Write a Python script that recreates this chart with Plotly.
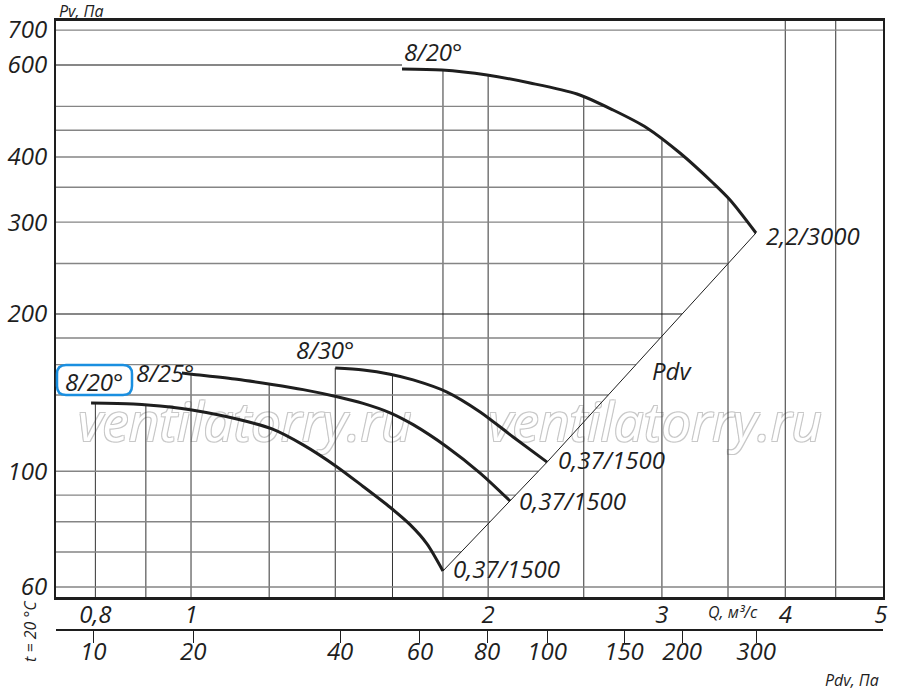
import numpy as np
import plotly.graph_objects as go

FONT = "Open Sans"
INK = "#1e1e1e"

# fan curves, Q in m3/s, Pv in Pa
q_820s = [0.792, 0.874, 0.952, 1.002, 1.113, 1.208, 1.299, 1.406, 1.494, 1.591, 1.667, 1.734, 1.800]
p_820s = [135.1, 134.5, 132.7, 131.0, 125.9, 120.5, 112.3, 101.9, 93.5, 85.3, 79.0, 72.6, 64.4]

q_825 = [0.979, 1.002, 1.113, 1.208, 1.299, 1.406, 1.494, 1.591, 1.679, 1.817, 1.963, 2.105]
p_825 = [154.2, 153.4, 150.0, 146.6, 143.3, 138.9, 134.9, 129.4, 122.8, 111.3, 99.2, 87.7]

q_830 = [1.400, 1.494, 1.591, 1.679, 1.817, 1.963, 2.120, 2.295]
p_830 = [157.7, 156.3, 153.4, 149.6, 141.8, 129.9, 116.3, 104.1]

q_820b = [1.636, 1.796, 1.995, 2.206, 2.461, 2.677, 2.897, 3.129, 3.380, 3.517, 3.736]
p_820b = [589.6, 587.0, 574.2, 554.3, 528.0, 492.0, 454.6, 407.0, 356.6, 330.8, 286.0]

# Pdv line goes through the curve end points
pdv_q = [1.800, 2.105, 2.295, 3.736]
pdv_p = [64.4, 87.7, 104.1, 286.0]

# grid
q_grid = [0.8, 0.9, 1, 1.2, 1.4, 1.6, 1.8, 2, 2.5, 3, 3.5, 4, 4.5]
p_grid = [60, 70, 80, 90, 100, 140, 160, 180, 250, 300, 350, 400, 450, 500, 700]
p_grid_major = [200, 600]

# ticks
q_ticks = [0.8, 1, 2, 3, 4, 5]
q_tick_text = ["0,8", "1", "2", "3", "4", "5"]
p_ticks = [60, 100, 200, 300, 400, 600, 700]
pdv_labels = ["10", "20", "40", "60", "80", "100", "150", "200", "300"]
pdv_at_q = [0.796, 1.005, 1.416, 1.706, 1.995, 2.295, 2.746, 3.145, 3.737]

x_range = [-0.1368, 0.7011]
y_range = [1.759, 2.8625]
q_min, q_max = 10 ** x_range[0], 10 ** x_range[1]
p_min, p_max = 10 ** y_range[0], 10 ** y_range[1]

curves = [(q_820s, p_820s), (q_825, p_825), (q_830, p_830), (q_820b, p_820b)]


def loglog(v, xs, ys):
    return float(10 ** np.interp(np.log10(v), np.log10(xs), np.log10(ys)))


def top_end(q):
    tops = [loglog(q, cq, cp) for cq, cp in curves if cq[0] - 1e-6 <= q <= cq[-1] + 1e-6]
    return max(tops) if tops else p_max


def right_end(p):
    if p < pdv_p[0]:
        return q_max
    if p <= pdv_p[-1]:
        return loglog(p, pdv_p, pdv_q)
    if p <= 1.1 * max(p_820b):
        return loglog(min(p, max(p_820b)), p_820b[::-1], q_820b[::-1])
    return q_max


def segs_h(values):
    xs, ys = [], []
    for p in values:
        xs += [q_min, right_end(p), None]
        ys += [p, p, None]
    return xs, ys


# page pixel -> paper (plot area is 56..883 x 21..630)
def px(x):
    return (x - 56) / 827


def py(y):
    return (630 - y) / 609


fig = go.Figure()

# watermark
fig.add_trace(go.Scatter(
    x=[1.134, 2.953], y=[121, 121], mode="text", text=["ventilatorry.ru"] * 2,
    textfont=dict(family=FONT, size=53, color="white", style="italic",
                  shadow="1px 1px 0 #c8c8c8, -1px -1px 0 #c8c8c8, 1px -1px 0 #c8c8c8, -1px 1px 0 #c8c8c8"),
    hoverinfo="skip", showlegend=False))

vx, vy = [], []
for q in q_grid:
    vx += [q, q, None]
    vy += [p_min, top_end(q), None]
fig.add_trace(go.Scatter(x=vx, y=vy, mode="lines", line=dict(color="#333", width=1),
                         hoverinfo="skip", showlegend=False))

hx, hy = segs_h(p_grid)
fig.add_trace(go.Scatter(x=hx, y=hy, mode="lines", line=dict(color="#858585", width=1.4),
                         hoverinfo="skip", showlegend=False))
hx, hy = segs_h(p_grid_major)
fig.add_trace(go.Scatter(x=hx, y=hy, mode="lines", line=dict(color="#111", width=1.1),
                         hoverinfo="skip", showlegend=False))

fig.add_trace(go.Scatter(x=pdv_q, y=pdv_p, mode="lines", line=dict(color=INK, width=1),
                         hoverinfo="skip", showlegend=False))

for cq, cp in curves:
    fig.add_trace(go.Scatter(x=cq, y=cp, mode="lines",
                             line=dict(color=INK, width=3, shape="spline", smoothing=0.8),
                             hoverinfo="skip", showlegend=False))

# dummy trace for the Pdv axis
fig.add_trace(go.Scatter(x=pdv_at_q[:1], y=[100], xaxis="x2", mode="markers",
                         marker=dict(opacity=0), hoverinfo="skip", showlegend=False))

lab = dict(family=FONT, size=24, color=INK, style="italic")
small = dict(family=FONT, size=16, color=INK, style="italic")


def curve_note(text, q, p, anchor, dx, dy):
    fig.add_annotation(x=np.log10(q), y=np.log10(p), xref="x", yref="y", text=text,
                       showarrow=False, xanchor=anchor, yanchor="middle",
                       xshift=dx, yshift=dy, font=lab)


def page_note(text, x, y, anchor="center", font=small, angle=0):
    fig.add_annotation(x=px(x), y=py(y), xref="paper", yref="paper", text=text,
                       showarrow=False, xanchor=anchor, yanchor="middle",
                       textangle=angle, font=font)


curve_note("8/20°", q_820b[0], p_820b[0], "left", 0, 17)
curve_note("2,2/3000", q_820b[-1], p_820b[-1], "left", 8, -3)
curve_note("0,37/1500", q_830[-1], p_830[-1], "left", 9, 3)
curve_note("0,37/1500", q_825[-1], p_825[-1], "left", 7, 0)
curve_note("0,37/1500", q_820s[-1], p_820s[-1], "left", 8, 2)
curve_note("8/30°", q_830[0], p_830[0], "center", -10, 18)
curve_note("8/25°", q_825[0], p_825[0], "right", 14, 1)
curve_note("8/20°", q_820s[0], p_820s[0], "center", 3, 22)

page_note("Pdv", 672, 370, font=lab)
page_note("Pv, Па", 57, 11, anchor="left")
page_note("Q, м³/с", 733, 612)
page_note("Pdv, Па", 881, 680, anchor="right")
page_note("t = 20 °C", 30, 631, angle=-90)

# blue highlight round the small 8/20 label
x0, x1, y0, y1 = px(57), px(132), py(395), py(365)
rx, ry = 9 / 827, 9 / 609
path = (f"M {x0+rx},{y1} L {x1-rx},{y1} Q {x1},{y1} {x1},{y1-ry} L {x1},{y0+ry} "
        f"Q {x1},{y0} {x1-rx},{y0} L {x0+rx},{y0} Q {x0},{y0} {x0},{y0+ry} "
        f"L {x0},{y1-ry} Q {x0},{y1} {x0+rx},{y1} Z")
fig.add_shape(type="path", path=path, xref="paper", yref="paper",
              line=dict(color="#1a8fe0", width=2.5))

tick = dict(family=FONT, size=24, color=INK, style="italic")
fig.update_layout(
    width=900, height=693,
    margin=dict(l=56, r=17, t=21, b=63, autoexpand=False),
    plot_bgcolor="white", paper_bgcolor="white",
    xaxis=dict(type="log", range=x_range, showgrid=False, zeroline=False, automargin=False,
               showline=True, mirror=True, linecolor=INK, linewidth=2.5,
               tickvals=q_ticks, ticktext=q_tick_text, tickfont=tick, ticks="",
               ticklabelstandoff=-6),
    yaxis=dict(type="log", range=y_range, domain=[33 / 609, 1], showgrid=False, zeroline=False,
               automargin=False, showline=True, mirror=True, linecolor=INK, linewidth=2,
               tickvals=p_ticks, ticktext=[str(v) for v in p_ticks], tickfont=tick, ticks="",
               ticklabelstandoff=2),
    xaxis2=dict(type="log", range=x_range, overlaying="x", anchor="free", position=0,
                side="bottom", showgrid=False, zeroline=False, showline=True, automargin=False,
                linecolor=INK, linewidth=2, ticks="outside", ticklen=12, tickwidth=1.3,
                tickcolor=INK, tickvals=pdv_at_q, ticktext=pdv_labels, tickfont=tick,
                ticklabelstandoff=-12),
)

# the page body has an 8px margin by default; drop it so the chart sits at the corner
fig.write_html("out.html", config={"displayModeBar": False},
               post_script="document.body.style.margin='0';")
